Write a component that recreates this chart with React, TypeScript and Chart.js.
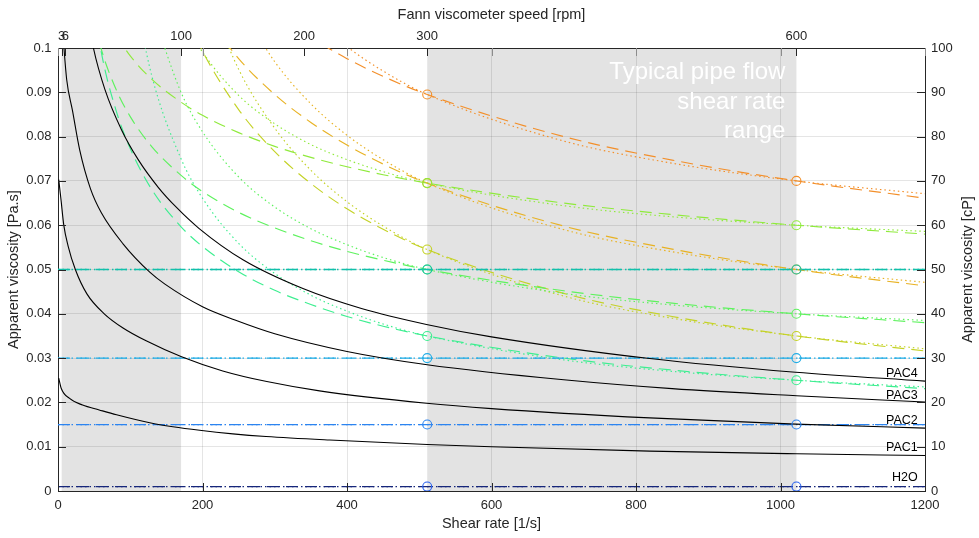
import React, { useEffect, useRef } from "react";
import { Chart, registerables } from "chart.js";

Chart.register(...registerables);

// ---------------- data ----------------
const RPM_TICKS = [3, 6, 100, 200, 300, 600];
const SHEAR_PER_RPM = 1.7034; // Fann viscometer: shear rate [1/s] per rpm
const SHADED_RPM = [
  [3, 100],
  [300, 600],
];
const READING_RPM = [300, 600];

// PAC fluids (solid black)
const PAC1_SHEAR = [1, 4.4, 16, 34, 57, 81, 127, 159, 196, 242, 288, 376, 511, 600, 819, 1022, 1200];
const PAC1_VISC = [0.0255, 0.0232, 0.0209, 0.0194, 0.0183, 0.0172, 0.0154, 0.0145, 0.0137, 0.0129, 0.0123, 0.0115, 0.0105, 0.01, 0.009, 0.0084, 0.008];
const PAC2_SHEAR = [1, 4, 8, 14, 24, 40, 64, 90, 122, 171, 228, 289, 362, 510, 600, 819, 1021, 1200];
const PAC2_VISC = [0.0703, 0.066, 0.06, 0.0553, 0.05, 0.0445, 0.04, 0.0368, 0.0339, 0.0303, 0.0271, 0.0247, 0.0226, 0.0198, 0.0186, 0.0165, 0.0151, 0.0142];
const PAC3_SHEAR = [2, 5, 7.4, 12, 20, 30, 45, 60, 90, 127, 148, 200, 245, 300, 400, 511, 700, 850, 1022, 1200];
const PAC3_VISC = [0.116, 0.107, 0.1018, 0.0929, 0.0859, 0.077, 0.0682, 0.0628, 0.0558, 0.0494, 0.0467, 0.0416, 0.0386, 0.0355, 0.0315, 0.0285, 0.0251, 0.0231, 0.0215, 0.0201];
const PAC4_SHEAR = [30, 49, 65, 88, 111, 139, 164, 195, 256, 339, 420, 510, 600, 819, 1021, 1200];
const PAC4_VISC = [0.1176, 0.1, 0.0906, 0.0815, 0.0748, 0.0685, 0.064, 0.0593, 0.0522, 0.0457, 0.0412, 0.0376, 0.0348, 0.0299, 0.0268, 0.0248];

// Newtonian fluids (horizontal lines)
const NEWTONIAN_VISC = [0.001, 0.015, 0.03, 0.05];

// Viscometer readings as apparent viscosity [Pa.s] at 300 and 600 rpm
// order: H2O, N15, N30, N50, SG, GR, LG, YG, GOLD, ORANGE
const VISC_300 = [0.001, 0.015, 0.03, 0.05, 0.035, 0.05, 0.0695, 0.0545, 0.0695, 0.0895];
const VISC_600 = [0.001, 0.015, 0.03, 0.05, 0.025, 0.04, 0.06, 0.035, 0.05, 0.07];

// Model curves (dashed = power law, dotted = Bingham), sampled at these shear rates
const MODEL_SHEAR = [40, 60, 80, 100, 130, 170, 200, 250, 300, 350, 400, 450, 511, 700, 850, 1022, 1200];
const _ = null;
const SG_POWER = [0.1205, 0.099, 0.0861, 0.0773, 0.068, 0.0597, 0.0552, 0.0495, 0.0453, 0.0421, 0.0394, 0.0372, 0.035, 0.03, 0.0273, 0.025, 0.0231];
const SG_BINGHAM = [_, _, _, 0.1172, 0.0936, 0.0751, 0.0661, 0.0559, 0.0491, 0.0442, 0.0406, 0.0377, 0.035, 0.0296, 0.027, 0.025, 0.0235];
const GR_POWER = [0.1136, 0.0997, 0.0908, 0.0845, 0.0777, 0.0713, 0.0676, 0.0629, 0.0594, 0.0565, 0.0541, 0.0521, 0.05, 0.0452, 0.0424, 0.04, 0.038];
const GR_BINGHAM = [_, _, _, _, 0.1086, 0.0901, 0.0811, 0.0709, 0.0641, 0.0592, 0.0556, 0.0527, 0.05, 0.0446, 0.042, 0.04, 0.0385];
const LG_POWER = [_, _, 0.103, 0.0982, 0.0929, 0.0878, 0.0848, 0.0809, 0.0778, 0.0753, 0.0732, 0.0714, 0.0695, 0.065, 0.0624, 0.06, 0.058];
const LG_BINGHAM = [_, _, _, _, _, 0.1076, 0.0991, 0.0893, 0.0829, 0.0782, 0.0748, 0.0721, 0.0695, 0.0644, 0.0619, 0.06, 0.0586];
const YG_POWER = [_, _, _, _, _, 0.1101, 0.0993, 0.0861, 0.0766, 0.0694, 0.0637, 0.0591, 0.0545, 0.0446, 0.0394, 0.035, 0.0316];
const YG_BINGHAM = [_, _, _, _, _, _, 0.1152, 0.0952, 0.0819, 0.0724, 0.0653, 0.0598, 0.0545, 0.044, 0.039, 0.035, 0.0321];
const GOLD_POWER = [_, _, _, _, _, _, 0.1085, 0.0976, 0.0895, 0.0832, 0.0781, 0.0738, 0.0695, 0.0598, 0.0546, 0.05, 0.0463];
const GOLD_BINGHAM = [_, _, _, _, _, _, _, 0.1102, 0.0969, 0.0874, 0.0803, 0.0748, 0.0695, 0.059, 0.054, 0.05, 0.0471];
const ORANGE_POWER = [_, _, _, _, _, _, _, _, 0.1081, 0.1024, 0.0976, 0.0936, 0.0895, 0.08, 0.0747, 0.07, 0.0661];
const ORANGE_BINGHAM = [_, _, _, _, _, _, _, _, 0.1169, 0.1074, 0.1003, 0.0948, 0.0895, 0.079, 0.074, 0.07, 0.0671];

// Text annotations
const CURVE_LABELS = ["PAC4", "PAC3", "PAC2", "PAC1", "H2O"];
const CURVE_LABEL_Y = [0.0257, 0.0207, 0.0151, 0.0091, 0.0022];
const CURVE_LABEL_X = 1190;
const PIPE_TEXT = ["Typical pipe flow", "shear rate", "range"];

// ---------------- styles ----------------
const FONT = "'Liberation Sans', Arial, Helvetica, sans-serif";
const INK = "#262626";
const GRID = "rgba(38,38,38,0.12)";
const PATCH = "#e3e3e3";
const FLUID_COLORS = ["#16267a", "#2c84f0", "#22ade6", "#12c0aa", "#3dee90", "#5ef25e", "#8fea3c", "#c4d226", "#e8b223", "#f38f2a"];
const CIRCLE_COLORS = ["#2a62ee", "#2c84f0", "#22ade6", "#12c0aa", "#3dee90", "#5ef25e", "#8fea3c", "#c4d226", "#e8b223", "#f38f2a"];
const DASH = [12, 7];
const DOT = [1.5, 3];
const X_MIN = 0;
const X_MAX = 1200;

const pts = (xs: number[], ys: (number | null)[]) =>
  xs.map((x, i) => ({ x, y: ys[i] })).filter((p) => p.y !== null) as { x: number; y: number }[];

const lineDs = (data: any[], color: string, dash: number[], width = 1.15) => ({
  data,
  borderColor: color,
  backgroundColor: color,
  borderWidth: width,
  borderDash: dash,
  pointRadius: 0,
  pointHoverRadius: 0,
  fill: false,
  cubicInterpolationMode: "monotone",
  xAxisID: "x",
  yAxisID: "y",
});

function buildDatasets() {
  const ds: any[] = [];
  VISC_300.forEach((v, i) => {
    ds.push({
      data: [
        { x: READING_RPM[0] * SHEAR_PER_RPM, y: v },
        { x: READING_RPM[1] * SHEAR_PER_RPM, y: VISC_600[i] },
      ],
      showLine: false,
      pointRadius: 4.5,
      pointHoverRadius: 4.5,
      pointBorderWidth: 1.1,
      pointBorderColor: CIRCLE_COLORS[i],
      pointBackgroundColor: "rgba(0,0,0,0)",
      borderColor: CIRCLE_COLORS[i],
      xAxisID: "x",
      yAxisID: "y",
    });
  });
  [
    [PAC1_SHEAR, PAC1_VISC],
    [PAC2_SHEAR, PAC2_VISC],
    [PAC3_SHEAR, PAC3_VISC],
    [PAC4_SHEAR, PAC4_VISC],
  ].forEach(([xs, ys]) => ds.push(lineDs(pts(xs as number[], ys as number[]), "#000000", [], 1.1)));
  NEWTONIAN_VISC.forEach((v, i) => {
    const d = [
      { x: X_MIN, y: v },
      { x: X_MAX, y: v },
    ];
    ds.push(lineDs(d, FLUID_COLORS[i], DASH, 1.3));
    ds.push(lineDs(d, FLUID_COLORS[i], DOT, 1.3));
  });
  const models: [(number | null)[], (number | null)[]][] = [
    [SG_POWER, SG_BINGHAM],
    [GR_POWER, GR_BINGHAM],
    [LG_POWER, LG_BINGHAM],
    [YG_POWER, YG_BINGHAM],
    [GOLD_POWER, GOLD_BINGHAM],
    [ORANGE_POWER, ORANGE_BINGHAM],
  ];
  models.forEach(([pw, bg], k) => {
    const c = FLUID_COLORS[4 + k];
    ds.push(lineDs(pts(MODEL_SHEAR, pw), c, DASH));
    ds.push(lineDs(pts(MODEL_SHEAR, bg), c, DOT));
  });
  return ds;
}

const decorPlugin = {
  id: "decor",
  beforeDraw(chart: any) {
    const { ctx, chartArea: a, scales } = chart;
    const x = scales.x;
    ctx.save();
    ctx.fillStyle = PATCH;
    SHADED_RPM.forEach(([r0, r1]) => {
      const p0 = x.getPixelForValue(r0 * SHEAR_PER_RPM);
      const p1 = x.getPixelForValue(r1 * SHEAR_PER_RPM);
      ctx.fillRect(p0, a.top, p1 - p0, a.bottom - a.top);
    });
    ctx.restore();
  },
  beforeDatasetsDraw(chart: any) {
    const { ctx, chartArea: a, scales } = chart;
    const right = scales.x.getPixelForValue(SHADED_RPM[1][1] * SHEAR_PER_RPM) - 11;
    ctx.save();
    ctx.fillStyle = "#ffffff";
    ctx.font = `24px ${FONT}`;
    ctx.textAlign = "right";
    ctx.textBaseline = "alphabetic";
    PIPE_TEXT.forEach((t, i) => ctx.fillText(t, right, a.top + 31 + i * 29.7));
    ctx.restore();
  },
  afterDraw(chart: any) {
    const { ctx, chartArea: a, scales } = chart;
    const x = scales.x;
    const y = scales.y;
    const L = 8;
    ctx.save();
    ctx.lineWidth = 1;
    ctx.strokeStyle = INK;
    ctx.beginPath();
    y.ticks.forEach((t: any) => {
      const py = Math.round(y.getPixelForValue(t.value)) + 0.5;
      ctx.moveTo(a.left, py);
      ctx.lineTo(a.left + L, py);
      ctx.moveTo(a.right, py);
      ctx.lineTo(a.right - L, py);
    });
    x.ticks.forEach((t: any) => {
      const px = Math.round(x.getPixelForValue(t.value)) + 0.5;
      ctx.moveTo(px, a.bottom);
      ctx.lineTo(px, a.bottom - L);
    });
    RPM_TICKS.forEach((r) => {
      const px = Math.round(x.getPixelForValue(r * SHEAR_PER_RPM)) + 0.5;
      ctx.moveTo(px, a.top);
      ctx.lineTo(px, a.top + L);
    });
    ctx.stroke();
    ctx.strokeStyle = "#8c8c8c";
    ctx.beginPath();
    x.ticks.forEach((t: any) => {
      const px = Math.round(x.getPixelForValue(t.value)) + 0.5;
      ctx.moveTo(px, a.top);
      ctx.lineTo(px, a.top + L);
    });
    ctx.stroke();

    ctx.fillStyle = "#000000";
    ctx.font = `12.5px ${FONT}`;
    ctx.textAlign = "right";
    ctx.textBaseline = "alphabetic";
    const lx = x.getPixelForValue(CURVE_LABEL_X);
    CURVE_LABELS.forEach((t, i) => {
      ctx.fillText(t, lx, y.getPixelForValue(CURVE_LABEL_Y[i]));
    });

    ctx.fillStyle = INK;
    ctx.font = `14.5px ${FONT}`;
    ctx.textAlign = "center";
    ctx.textBaseline = "middle";
    ctx.translate(968, (a.top + a.bottom) / 2);
    ctx.rotate(-Math.PI / 2);
    ctx.fillText("Apparent viscosity [cP]", 0, 0);
    ctx.restore();
  },
};

export default function App() {
  const ref = useRef<HTMLCanvasElement>(null);
  useEffect(() => {
    if (!ref.current) return;
    const tickFont = { family: FONT, size: 13 };
    const titleFont = { family: FONT, size: 14.5 };
    const chart = new Chart(ref.current, {
      type: "line",
      data: { datasets: buildDatasets() },
      plugins: [decorPlugin],
      options: {
        animation: false,
        responsive: false,
        maintainAspectRatio: false,
        events: [],
        layout: { padding: 0 },
        elements: { line: { capBezierPoints: false } as any, point: { radius: 0 } },
        plugins: { legend: { display: false }, tooltip: { enabled: false } },
        scales: {
          x: {
            type: "linear",
            position: "bottom",
            min: X_MIN,
            max: X_MAX,
            ticks: { stepSize: 200, padding: 7, color: INK, font: tickFont, maxRotation: 0, callback: (v: any) => String(v) },
            grid: { color: GRID, drawTicks: false },
            border: { color: INK, width: 1 },
            title: { display: true, text: "Shear rate [1/s]", color: INK, font: titleFont, padding: { top: 0, bottom: 5.6 } },
            afterFit: (s: any) => {
              s.height = 47;
            },
          },
          x2: {
            type: "linear",
            position: "top",
            min: X_MIN,
            max: X_MAX,
            afterBuildTicks: (s: any) => {
              s.ticks = RPM_TICKS.map((r) => ({ value: r * SHEAR_PER_RPM }));
            },
            ticks: {
              autoSkip: false,
              padding: 4,
              color: INK,
              font: tickFont,
              maxRotation: 0,
              callback: (v: any) => String(Math.round(Number(v) / SHEAR_PER_RPM)),
            },
            grid: { display: false, drawTicks: false },
            border: { color: INK, width: 1 },
            title: { display: true, text: "Fann viscometer speed [rpm]", color: INK, font: titleFont, padding: { top: 6.5, bottom: 0 } },
            afterFit: (s: any) => {
              s.height = 48;
            },
          },
          y: {
            type: "linear",
            position: "left",
            min: 0,
            max: 0.1,
            ticks: {
              stepSize: 0.01,
              padding: 6.5,
              color: INK,
              font: tickFont,
              callback: (v: any) => (Number(v) === 0 ? "0" : String(+Number(v).toFixed(2))),
            },
            grid: { color: GRID, drawTicks: false },
            border: { color: INK, width: 1 },
            title: { display: true, text: "Apparent viscosity [Pa.s]", color: INK, font: titleFont, padding: { top: 5, bottom: 0 } },
            afterFit: (s: any) => {
              s.width = 58;
            },
          },
          y2: {
            type: "linear",
            position: "right",
            min: 0,
            max: 100,
            ticks: { stepSize: 10, padding: 6, color: INK, font: tickFont, callback: (v: any) => String(v) },
            grid: { display: false, drawTicks: false },
            border: { color: INK, width: 1 },
            title: { display: false },
            afterFit: (s: any) => {
              s.width = 54;
            },
          },
        },
      } as any,
    });
    return () => chart.destroy();
  }, []);
  return (
    <div style={{ position: "fixed", left: 0, top: 0, width: 979, height: 538, background: "#ffffff" }}>
      <canvas ref={ref} width={979} height={538} style={{ display: "block", width: 979, height: 538 }} />
    </div>
  );
}
